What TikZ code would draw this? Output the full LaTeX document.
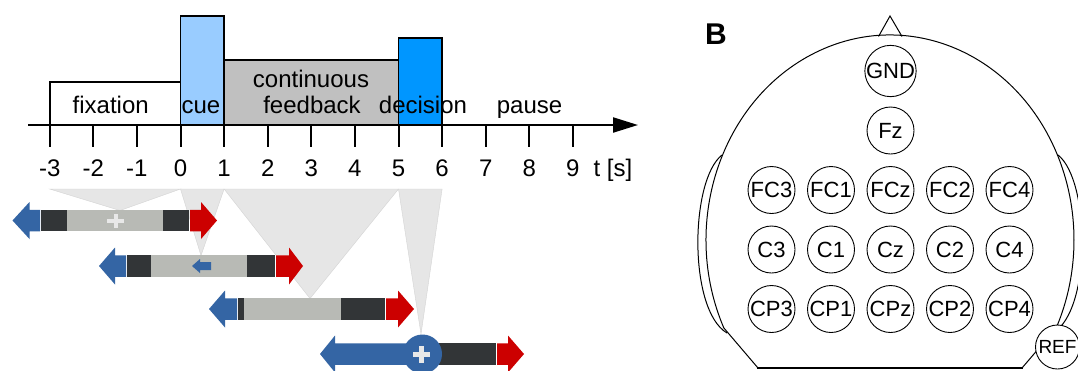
\documentclass[tikz,border=0pt]{standalone}
\usepackage{fontspec}
\setmainfont{Liberation Sans}
\usetikzlibrary{arrows.meta}

\definecolor{cuefill}{HTML}{99CCFF}
\definecolor{decfill}{HTML}{0096FF}
\definecolor{fbfill}{HTML}{C0C0C0}
\definecolor{funnel}{HTML}{E6E6E6}
\definecolor{barblue}{HTML}{3465A4}
\definecolor{barred}{HTML}{CC0000}
\definecolor{bardark}{HTML}{323537}
\definecolor{barlight}{HTML}{B8BAB5}
\definecolor{pluswhite}{HTML}{E8E8E8}

% trial bar pieces: #1 = y centre of the bar
\newcommand\bluehead[4]{% #2 tip, #3 head base, #4 shaft end
  \fill[barblue] (#2,#1) -- (#3,#1-18.5) -- (#3,#1-10.75) -- (#4,#1-10.75)
    -- (#4,#1+10.75) -- (#3,#1+10.75) -- (#3,#1+18.5) -- cycle;}
\newcommand\redhead[4]{% #2 shaft start, #3 head base, #4 tip
  \fill[barred] (#2,#1-10.75) -- (#3,#1-10.75) -- (#3,#1-18.5) -- (#4,#1)
    -- (#3,#1+18.5) -- (#3,#1+10.75) -- (#2,#1+10.75) -- cycle;}
\newcommand\barpiece[4]{\fill[#4] (#2,#1-10.75) rectangle (#3,#1+10.75);}

\begin{document}
\begin{tikzpicture}[x=1pt,y=-1pt,
  lbl/.style={anchor=base,inner sep=0pt,font=\fontsize{24}{28}\selectfont},
  phase/.style={draw=black,line width=1.8pt},
  tickmark/.style={line width=2pt},
  electrode/.style={circle,draw=black,line width=0.9pt,fill=white,
    minimum size=47pt,inner sep=0pt,font=\fontsize{22}{24}\selectfont},
  funnelpart/.style={fill=funnel,draw=funnel!92!black,line width=0.4pt},
  outline/.style={draw=black,line width=1pt}]

\useasboundingbox (0,0) rectangle (1078,370);
\clip (0,0) rectangle (1078,370);
\fill[white] (0,0) rectangle (1078,370);

% ---------------- trial timeline ----------------
\draw[phase,fill=white]   (49.7,82)  rectangle (180.5,125);
\draw[phase,fill=cuefill] (180.5,16) rectangle (224.1,125);
\draw[phase,fill=fbfill]  (224.1,60) rectangle (398.5,125);
\draw[phase,fill=decfill] (398.5,38) rectangle (442.1,125);

\coordinate (axstart) at (28,125);
\coordinate (axend) at (638,125);
\draw[line width=2.2pt,-{Triangle[length=25pt,width=15pt]}] (axstart) -- (axend);

\foreach \t in {-3,...,9}{
  \draw[tickmark] ({180.5+43.6*\t},124) -- ({180.5+43.6*\t},147);
  \node[lbl] (tk\t) at ({180.5+43.6*\t},176.7) {\t};
}
\node[lbl] (tunit) at (613,176.7) {t [s]};

\node[lbl] (fix)   at (110.7,113) {fixation};
\node[lbl] (cue)   at (201,113)   {cue};
\node[lbl] (cont)  at (311,87)    {continuous};
\node[lbl] (fb)    at (312,113)   {feedback};
\node[lbl] (dec)   at (423,113)   {decision};
\node[lbl] (pause) at (529.5,113) {pause};

% ---------------- zoom funnels ----------------
\fill[funnelpart] (49.7,189)  -- (180.5,189) -- (120,210.5) -- cycle;
\fill[funnelpart] (180.5,189) -- (224.1,189) -- (201,255.5) -- cycle;
\fill[funnelpart] (224.1,189) -- (398.5,189) -- (310,298.5) -- cycle;
\fill[funnelpart] (398.5,189) -- (442.1,189) -- (421,334)   -- cycle;

% ---------------- trial bars ----------------
% fixation
\bluehead{220.5}{12.5}{29.5}{40}
\barpiece{220.5}{41}{66.5}{bardark}
\barpiece{220.5}{66.5}{163}{barlight}
\barpiece{220.5}{163}{189}{bardark}
\redhead{220.5}{190}{201}{217}
\fill[pluswhite] (107,219) rectangle (124,223);
\fill[pluswhite] (113.5,214) rectangle (117.5,228.3);

% cue
\bluehead{266}{99}{115}{126}
\barpiece{266}{127}{151}{bardark}
\barpiece{266}{151}{247}{barlight}
\barpiece{266}{247}{275}{bardark}
\redhead{266}{276}{289}{303}
\fill[barblue] (192,266) -- (200,259) -- (200,262) -- (211,262)
  -- (211,270) -- (200,270) -- (200,273) -- cycle;

% continuous feedback
\bluehead{309}{209}{225}{237}
\barpiece{309}{238}{244}{bardark}
\barpiece{309}{244}{341}{barlight}
\barpiece{309}{341}{385}{bardark}
\redhead{309}{386}{398}{414}

% decision
\bluehead{354}{320}{335}{423}
\barpiece{354}{423}{496}{bardark}
\redhead{354}{497}{508}{524}
\fill[barblue] (422.5,354) circle[radius=19.5];
\fill[pluswhite] (413,351.5) rectangle (430,356.5);
\fill[pluswhite] (419,345.5) rectangle (424,362.5);

% ---------------- electrode montage ----------------
\node[anchor=base,inner sep=0pt,font=\bfseries\fontsize{30}{32}\selectfont]
  (panelB) at (716,44.5) {B};

% head outline, nose and ears
\draw[outline] (758,368) -- (723.8,327.9)
  arc[start angle=154.6, end angle=385.4, x radius=184, y radius=205]
  -- (1022,368);
\draw[line width=2pt] (757,368) -- (1023,368);
\draw[outline,line join=miter] (878.5,36.5) -- (890,16) -- (902,36.5);
\draw[outline] (722,155) .. controls (690,180) and (688,310) .. (727,333);
\draw[outline] (1058,155) .. controls (1090,180) and (1092,310) .. (1053,333);

\node[electrode] (GND) at (890.5,71)    {GND};
\node[electrode] (Fz)  at (890.5,130.5) {Fz};

\foreach \lab/\x in {FC3/771.5,FC1/831,FCz/890.5,FC2/950,FC4/1009.5}
  \node[electrode] (\lab) at (\x,190) {\lab};
\foreach \lab/\x in {C3/771.5,C1/831,Cz/890.5,C2/950,C4/1009.5}
  \node[electrode] (\lab) at (\x,249.5) {\lab};
\foreach \lab/\x in {CP3/771.5,CP1/831,CPz/890.5,CP2/950,CP4/1009.5}
  \node[electrode] (\lab) at (\x,309) {\lab};

\node[electrode,minimum size=44pt,font=\fontsize{19}{22}\selectfont]
  (REF) at (1057.5,347) {REF};

\end{tikzpicture}
\end{document}
